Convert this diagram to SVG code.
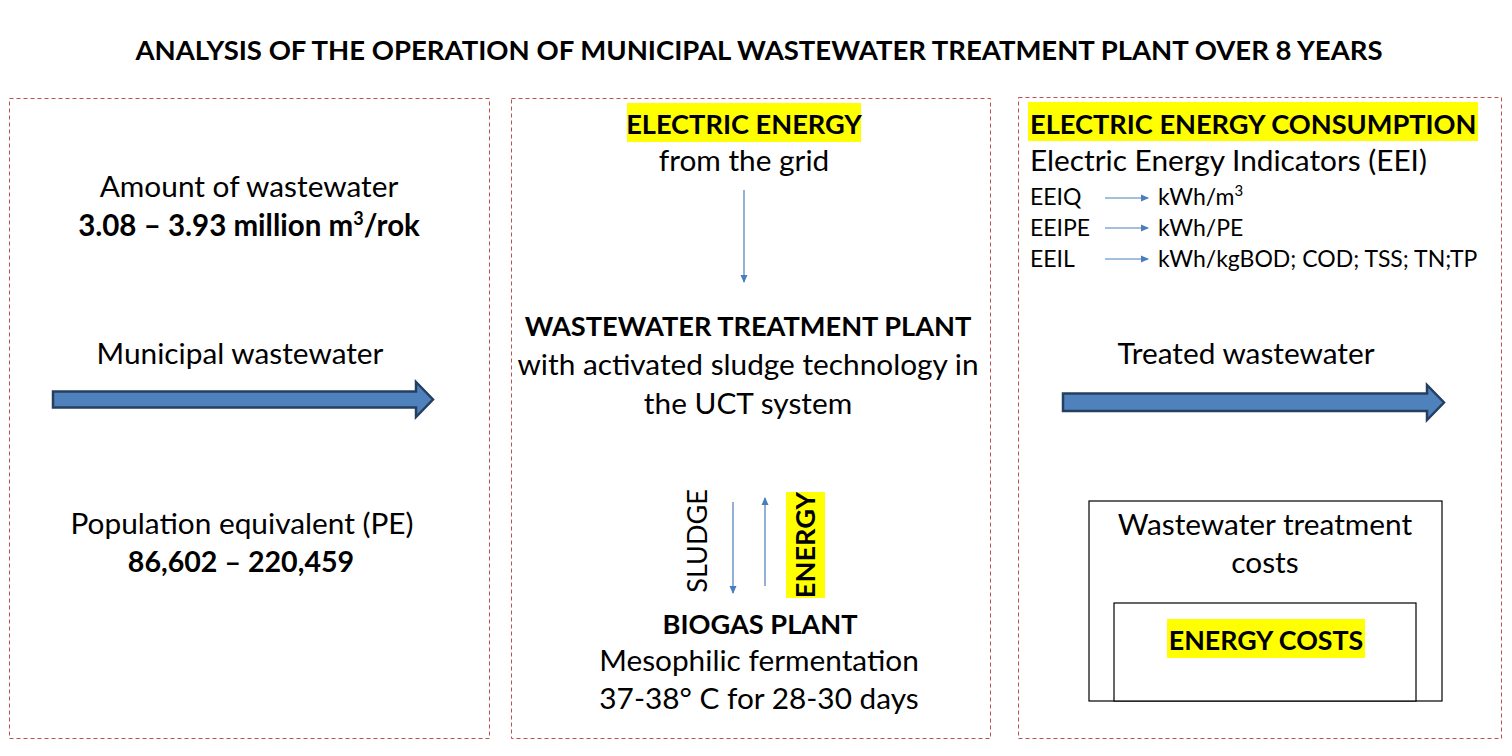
<svg xmlns="http://www.w3.org/2000/svg" width="1512" height="756" viewBox="0 0 1512 756">
<defs>
<style>
text{font-family:Lato,"Open Sans","Liberation Sans",sans-serif;fill:#000}
.t{font-size:29.8px}
.b{font-size:27.2px;font-weight:bold}
.s{font-size:23px}
.title{font-size:27.5px;font-weight:bold}
.m{text-anchor:middle}
.panel{fill:none;stroke:#C0504D;stroke-width:1;stroke-dasharray:4 3}
.hl{fill:#FFFF00}
.big{fill:#4F81BD;stroke:#243F60;stroke-width:2.5}
.thin{stroke:#4A7EBB;stroke-width:1.2;fill:none}
.box{fill:#fff;stroke:#000;stroke-width:1.2}
</style>
<marker id="ah" markerWidth="8" markerHeight="8" refX="7" refY="4" orient="auto" markerUnits="userSpaceOnUse">
<path d="M0,0.5 L8,4 L0,7.5 Z" fill="#4A7EBB"/>
</marker>
</defs>
<rect width="1512" height="756" fill="#fff"/>
<text id="title" class="title m" x="759" y="60">ANALYSIS OF THE OPERATION OF MUNICIPAL WASTEWATER TREATMENT PLANT OVER 8 YEARS</text>

<g id="panel-left">
<rect class="panel" x="9.5" y="98.5" width="480" height="640"/>
<text class="t m" x="249" y="197">Amount of wastewater</text>
<text class="b m" x="249" y="236" style="font-size:29.5px">3.08 – 3.93 million m<tspan style="font-size:18px" dy="-11">3</tspan><tspan dy="11">/rok</tspan></text>
<text class="t m" x="240" y="364">Municipal wastewater</text>
<text class="t m" x="242" y="534">Population equivalent (PE)</text>
<text class="b m" x="241" y="572" style="font-size:28.6px">86,602 – 220,459</text>
</g>

<g id="panel-middle">
<rect class="panel" x="511.5" y="98.5" width="479" height="640"/>
<rect class="hl" x="627" y="103" width="234" height="39"/>
<text class="b m" x="744" y="134">ELECTRIC ENERGY</text>
<text class="t m" x="744" y="171">from the grid</text>
<text class="b m" x="748" y="336">WASTEWATER TREATMENT PLANT</text>
<text class="t m" x="748" y="375">with activated sludge technology in</text>
<text class="t m" x="748" y="414">the UCT system</text>
<text class="m" style="font-size:27px" transform="translate(707,541) rotate(-90)">SLUDGE</text>
<rect class="hl" x="786" y="492" width="39" height="106"/>
<text class="b m" transform="translate(815,545) rotate(-90)">ENERGY</text>
<text class="b m" x="760" y="634">BIOGAS PLANT</text>
<text class="t m" x="759" y="671">Mesophilic fermentation</text>
<text class="t m" x="759" y="709">37-38° C for 28-30 days</text>
</g>

<g id="panel-right">
<rect class="panel" x="1018.5" y="97.5" width="483" height="641"/>
<rect class="hl" x="1028" y="102" width="450" height="39"/>
<text class="b" x="1030" y="134">ELECTRIC ENERGY CONSUMPTION</text>
<text class="t" x="1030" y="171">Electric Energy Indicators (EEI)</text>
<text class="s" x="1030" y="205">EEIQ</text>
<text class="s" x="1158" y="205">kWh/m<tspan style="font-size:15px" dy="-9">3</tspan></text>
<text class="s" x="1030" y="236">EEIPE</text>
<text class="s" x="1158" y="236">kWh/PE</text>
<text class="s" x="1030" y="267">EEIL</text>
<text class="s" x="1158" y="267">kWh/kgBOD; COD; TSS; TN;TP</text>
<text class="t m" x="1246" y="364">Treated wastewater</text>
</g>

<g id="costs">
<rect class="box" x="1089" y="501" width="353" height="200"/>
<text class="t m" x="1265" y="535">Wastewater treatment</text>
<text class="t m" x="1265" y="573">costs</text>
<rect class="box" x="1114" y="603" width="302" height="98"/>
<rect class="hl" x="1167" y="619" width="198" height="39"/>
<text class="b m" x="1266" y="650" style="font-size:26.8px">ENERGY COSTS</text>
</g>

<g id="connectors">
<path class="big" d="M53,391.5 H416 V382 L433,399.5 L416,417 V407.5 H53 Z"/>
<path class="big" d="M1063,393.5 H1427 V385 L1444,402.5 L1427,420 V411 H1063 Z"/>
<line class="thin" x1="744" y1="190" x2="744" y2="282" marker-end="url(#ah)"/>
<line class="thin" x1="733" y1="502" x2="733" y2="593" marker-end="url(#ah)"/>
<line class="thin" x1="765" y1="586" x2="765" y2="498" marker-end="url(#ah)"/>
<line class="thin" x1="1105" y1="198" x2="1148" y2="198" marker-end="url(#ah)"/>
<line class="thin" x1="1105" y1="228" x2="1148" y2="228" marker-end="url(#ah)"/>
<line class="thin" x1="1105" y1="259" x2="1148" y2="259" marker-end="url(#ah)"/>
</g>
</svg>
